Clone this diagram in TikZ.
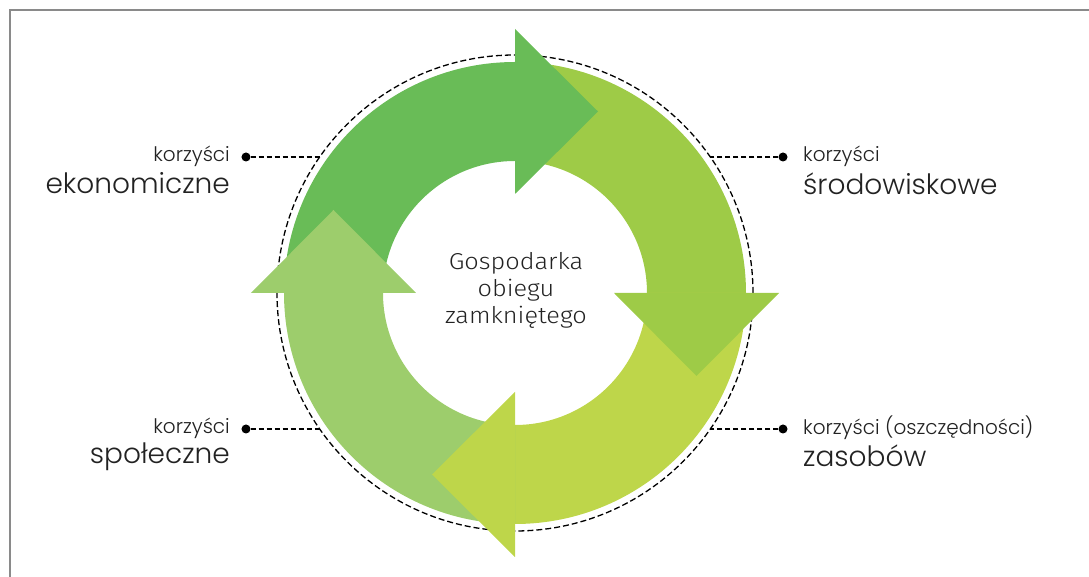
\documentclass[tikz,border=0pt]{standalone}
\usepackage{graphicx}
\usepackage{fontspec}
\setmainfont{Fira Sans Light}
\newfontfamily\labfont{Poppins Light}
\definecolor{gA}{HTML}{69BC57}
\definecolor{gB}{HTML}{9ECB47}
\definecolor{gC}{HTML}{BED64A}
\definecolor{gD}{HTML}{9DCD6C}
\definecolor{frame}{HTML}{8A8A8A}
\definecolor{ink}{HTML}{222222}
\begin{document}
\begin{tikzpicture}[x=1pt,y=1pt,
  dashring/.style={draw=black, line width=1.3pt, dash pattern=on 6pt off 3pt},
  link/.style={draw=black, line width=1.3pt, dash pattern=on 5pt off 3pt},
  dot/.style={circle, fill=black, inner sep=0pt, minimum size=9pt},
  small/.style={font=\labfont\fontsize{20}{24}\selectfont, text=ink, inner sep=0pt},
  big/.style={font=\labfont\fontsize{28}{34}\selectfont, text=ink, inner sep=0pt},
  centre/.style={font=\fontsize{23}{27}\selectfont, text=ink, align=center, inner sep=0pt}
]
\useasboundingbox (-515,-284) rectangle (574,293);
\draw[frame, line width=1.5pt] (-505,-284) -- (-505,283) -- (574,283);
\draw[dashring] (0,0) circle (238);
% arrow bodies
\foreach \s/\c in {180/gA, 90/gB, 0/gC, -90/gD}{
  \fill[\c] (\s:231) arc[start angle=\s, end angle=\s-90, radius=231]
    -- (\s-90:132) arc[start angle=\s-90, end angle=\s, radius=132] -- cycle;
}
% arrow heads
\fill[gA] (0,99) -- (0,264) -- (83,181.5) -- cycle;
\fill[gB] (99,0) -- (264,0) -- (181.5,-83) -- cycle;
\fill[gC] (0,-99) -- (0,-264) -- (-83,-181.5) -- cycle;
\fill[gD] (-99,0) -- (-264,0) -- (-181.5,83) -- cycle;
% centre text
\node[centre] (ce) at (1,3) {\scalebox{1.1}[1]{Gospodarka}\\\scalebox{1.1}[1]{obiegu}\\\scalebox{1.1}[1]{zamkniętego}};
% connectors
\coordinate (pEk) at (-195.3,136);
\coordinate (pSr) at (195.3,136);
\coordinate (pSp) at (-195.3,-136);
\coordinate (pZa) at (195.3,-136);
\node[dot] (dEk) at (-269,136) {};
\node[dot] (dSr) at (268,136) {};
\node[dot] (dSp) at (-269,-136) {};
\node[dot] (dZa) at (268,-136) {};
\draw[link] (dEk) -- (pEk);
\draw[link] (dSr) -- (pSr);
\draw[link] (dSp) -- (pSp);
\draw[link] (dZa) -- (pZa);
% labels
\node[small, anchor=base east] (k1) at (-285,131) {korzyści};
\node[big, anchor=base east] (l1) at (-285,99) {ekonomiczne};
\node[small, anchor=base west] (k2) at (288,131) {korzyści};
\node[big, anchor=base west] (l2) at (288,98) {środowiskowe};
\node[small, anchor=base east] (k3) at (-285,-141) {korzyści};
\node[big, anchor=base east] (l3) at (-285,-171) {społeczne};
\node[small, anchor=base west] (k4) at (288,-142) {korzyści (oszczędności)};
\node[big, anchor=base west] (l4) at (288,-174) {zasobów};
\end{tikzpicture}
\end{document}
